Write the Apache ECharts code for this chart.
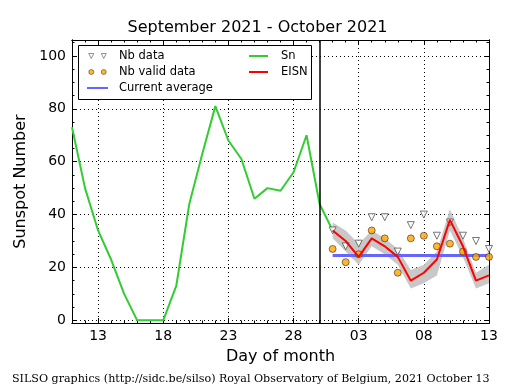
<!DOCTYPE html>
<html><head><meta charset="utf-8">
<script src="https://cdn.jsdelivr.net/npm/echarts@6/dist/echarts.min.js"></script>
<style>html,body{margin:0;padding:0;background:#fff}#c{width:515px;height:390px}</style>
</head><body><div id="c"></div>
<script>
// x = day index, 0 = 2021-09-11, 20 = 2021-10-01
const snX = [0,1,2,3,4,5,6,7,8,9,10,11,12,13,14,15,16,17,18,19,20];
const snY = [73,50,34,23,10,0,0,0,13,44,63,81,68,61,46,50,49,56,70,44,34];
const curX = [20,21,22,23,24,25,26,27,28,29,30,31,32];
const eisnY = [34,30,24,31,28,24,15,18,23,38,28,15,17];
const eisnUpper = [37,34,29,34,31,27,19,21,26,42,31,18,21];
const eisnLower = [31,26,21,28,25,21,12,14,17,34,24,12,14];
const nbData = [34,28,29,39,39,26,36,40,32,37,32,30,27];
const nbValid = [27,22,25,34,31,18,31,32,28,29,26,24,24];
const avgX = [20,32];
const avgY = [24.5,24.5];
const monthStartX = 19;
const xTickValues = [2,7,12,17,22,27,32];
const xTickLabels = ['13','18','23','28','03','08','13'];
const yTickValues = [0,20,40,60,80,100];
const yMinorValues = [0,5,10,15,20,25,30,35,40,45,50,55,60,65,70,75,80,85,90,95,100,105];

const FONT = 'DejaVu Sans';
const zip = (xs, ys) => xs.map((x,i)=>[x, ys[i]]);

function xAx(pos, major, withLabel){
  const a = {type:'value', position:pos, min:0, max:32,
    axisLine:{show:true, onZero:false, lineStyle:{color:'#000', width:1}},
    axisTick:{show:true, inside:true, length: major?5:2.5, lineStyle:{color:'#000', width:1}},
    axisLabel:{show:false}, splitLine:{show:false}};
  if (major) a.axisTick.customValues = xTickValues; else a.interval = 1;
  if (withLabel){
    a.axisLabel = {show:true, customValues:xTickValues, formatter:(v)=>xTickLabels[xTickValues.indexOf(v)],
      fontSize:14, color:'#000', fontFamily:FONT, margin:6};
    a.splitLine = {show:true, lineStyle:{type:[1,3], color:'#000', width:1}};
    a.name = 'Day of month'; a.nameLocation='middle'; a.nameGap=26;
    a.nameTextStyle = {fontSize:16, color:'#000', fontFamily:FONT};
  }
  return a;
}
function yAx(pos, major, withLabel){
  const a = {type:'value', position:pos, min:-1, max:106,
    axisLine:{show:true, onZero:false, lineStyle:{color:'#000', width:1}},
    axisTick:{show:true, inside:true, length: major?5:2.5, customValues: major?yTickValues:yMinorValues, lineStyle:{color:'#000', width:1}},
    axisLabel:{show:false}, splitLine:{show:false}};
  if (withLabel){
    a.axisLabel = {show:true, customValues:yTickValues, fontSize:14, color:'#000', fontFamily:FONT, margin:6};
    a.splitLine = {show:true, lineStyle:{type:[1,3], color:'#000', width:1}};
    a.name = 'Sunspot Number'; a.nameLocation='middle'; a.nameGap=38;
    a.nameTextStyle = {fontSize:16, color:'#000', fontFamily:FONT};
  }
  return a;
}

const chart = echarts.init(document.getElementById('c'), null, {renderer:'canvas'});
chart.setOption({
  animation:false,
  backgroundColor:'#fff',
  title:[
    {text:'September 2021 - October 2021', left:'center', top:20, padding:0,
     textStyle:{fontSize:16, fontWeight:'normal', color:'#000', fontFamily:FONT}},
    {text:'SILSO graphics (http://sidc.be/silso) Royal Observatory of Belgium, 2021 October 13',
     left:12, top:374, padding:0,
     textStyle:{fontSize:11.1, fontWeight:'normal', color:'#000', fontFamily:'DejaVu Serif'}}
  ],
  grid:{left:72, right:26, top:40, bottom:67, containLabel:false},
  xAxis:[xAx('bottom',true,true), xAx('bottom',false,false), xAx('top',true,false), xAx('top',false,false)],
  yAxis:[yAx('left',true,true), yAx('left',false,false), yAx('right',true,false), yAx('right',false,false)],
  graphic:[{type:'rect', z:3, shape:{x:78.5, y:45.5, width:233, height:54},
    style:{fill:'#fff', stroke:'#000', lineWidth:1}}],
  legend:[
    {left:86, top:50, padding:0, orient:'vertical', itemWidth:21, itemHeight:5, itemGap:4, z:5,
     textStyle:{fontSize:11.5, color:'#000', fontFamily:FONT, padding:[0,0,0,6]},
     data:[
       {name:'Nb data', icon:'path://M0,0L6,0L3,6ZM15,0L21,0L18,6Z', itemStyle:{borderWidth:0.8}},
       {name:'Nb valid data', icon:'path://M0,3A3,3,0,1,1,6,3A3,3,0,1,1,0,3ZM15,3A3,3,0,1,1,21,3A3,3,0,1,1,15,3Z', itemStyle:{borderWidth:0.5}},
       {name:'Current average', itemStyle:{opacity:0}}
     ]},
    {left:248, top:50, padding:0, orient:'vertical', itemWidth:19, itemHeight:5, itemGap:4, z:5,
     textStyle:{fontSize:11.5, color:'#000', fontFamily:FONT, padding:[0,0,0,8]},
     data:[{name:'Sn', itemStyle:{opacity:0}},{name:'EISN', itemStyle:{opacity:0}}]}
  ],
  series:[
    {name:'Sn', type:'line', data:zip(snX, snY), symbol:'none', z:3,
     lineStyle:{color:'#33cc33', width:2}, itemStyle:{color:'#33cc33'},
     markLine:{silent:true, symbol:'none', label:{show:false},
       lineStyle:{color:'#000', type:'solid', width:1.5}, data:[{xAxis:monthStartX}]}},
    {name:'band', type:'custom', z:1, silent:true,
     data:[[curX[0], eisnLower[0]]],
     renderItem:function(params, api){
       const pts = [];
       for (let i=0;i<curX.length;i++) pts.push(api.coord([curX[i], eisnUpper[i]]));
       for (let i=curX.length-1;i>=0;i--) pts.push(api.coord([curX[i], eisnLower[i]]));
       return {type:'polygon', shape:{points:pts}, style:{fill:'#c8c8c8'}};
     }},
    {name:'Current average', type:'line', data:zip(avgX, avgY), symbol:'none', z:4,
     lineStyle:{color:'#6666ff', width:3}, itemStyle:{color:'#6666ff'}},
    {name:'Nb data', type:'scatter', data:zip(curX, nbData), symbol:'triangle', symbolRotate:180, symbolSize:7, z:5,
     itemStyle:{color:'#ffffff', borderColor:'#555', borderWidth:1}},
    {name:'Nb valid data', type:'scatter', data:zip(curX, nbValid), symbol:'circle', symbolSize:7, z:5,
     itemStyle:{color:'#ffa500', borderColor:'#000', borderWidth:0.6}},
    {name:'EISN', type:'line', data:zip(curX, eisnY), symbol:'none', z:6,
     lineStyle:{color:'#ff0000', width:2}, itemStyle:{color:'#ff0000'}}
  ]
});
</script></body></html>
